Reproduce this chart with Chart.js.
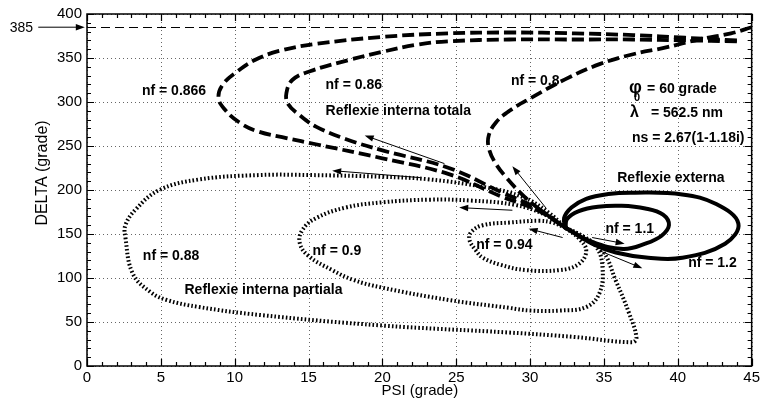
<!DOCTYPE html>
<html>
<head>
<meta charset="utf-8">
<script src="https://cdn.jsdelivr.net/npm/chart.js@4.4.1/dist/chart.umd.min.js"></script>
<style>
  html, body { margin: 0; padding: 0; background: #fff; }
</style>
</head>
<body>
<canvas id="chart" width="763" height="401"></canvas>
<script>
// axis ticks
const psiTicks = [0, 5, 10, 15, 20, 25, 30, 35, 40, 45];
const deltaTicks = [0, 50, 100, 150, 200, 250, 300, 350, 400];
const psiMinorStep = 1;
const deltaMinorStep = 10;
const deltaLimit = 385;

// nf = 0.866 (reflexie interna totala)
const nf0866Psi = [44, 40.5, 37, 33, 28.6, 24.5, 20, 15.5, 13, 11.4, 10.2, 9.2, 8.9, 9.3, 10.3, 11.5, 13.5, 15.5, 20, 24.5, 28, 30.5, 32.4];
const nf0866Delta = [370, 373, 376, 378, 379, 378, 374, 366, 358, 348, 335, 320, 305, 292, 277, 267, 259, 252, 236, 218, 193, 177, 157];
// nf = 0.86
const nf086Psi = [44, 40.5, 37, 33, 28.6, 24.5, 22.3, 20, 17.8, 15.1, 13.9, 13.5, 13.6, 14.4, 15.5, 17.5, 20, 24.5, 28, 30.5, 32.4];
const nf086Delta = [369, 370, 371, 371, 371, 369, 365, 357, 348, 335, 325, 310, 298, 285, 272, 258, 245, 225, 198, 179, 157];
// nf = 0.8
const nf08Psi = [45, 43.6, 41.4, 39.2, 36.9, 34.7, 32.4, 30.1, 28.6, 27.7, 27.2, 27.2, 27.6, 28.4, 29.7, 30.8, 32.4];
const nf08Delta = [385, 378, 371, 362, 354, 343, 326, 305, 290, 277, 262, 248, 232, 214, 191, 176, 157];

// nf = 0.88 (reflexie interna partiala)
const nf088Psi = [32.4, 31.2, 29.5, 27, 23.2, 20, 15, 11.7, 7.6, 4.9, 3.3, 2.6, 2.6, 3.1, 4.3, 5.4, 7.6, 11.7, 20, 28.6, 33, 36.9, 37.2, 36.7, 35.8, 34.9, 33.5, 32.4];
const nf088Delta = [157, 175, 192, 203, 212, 215, 217, 217, 212, 200, 178, 160, 146, 105, 84, 75, 67, 58, 46, 38, 33, 27, 32, 60, 97, 131, 148, 157];
// nf = 0.9
const nf09Psi = [32.4, 31, 29, 26, 23.2, 20, 17.5, 15.5, 14.6, 14.4, 15, 16.6, 18, 20, 24.5, 28.6, 30, 32, 33.8, 34.7, 34.9, 34.5, 33.5, 32.4];
const nf09Delta = [157, 172, 183, 188, 189, 186, 180, 168, 155, 140, 125, 109, 98, 89, 75, 66, 63, 63, 67, 83, 112, 135, 148, 157];
// nf = 0.94
const nf094Psi = [32.4, 31.5, 30.6, 28.6, 26.8, 26, 25.9, 26.3, 26.8, 28, 29.7, 32, 33.3, 33.8, 33.3, 32.4];
const nf094Delta = [157, 163, 165, 163, 160, 152, 143, 132, 123, 115, 109, 109, 116, 131, 145, 157];

// nf = 1.1 and 1.2 (reflexie externa)
const nf11Psi = [32.4, 32.5, 33.3, 34.6, 36.2, 37.8, 39, 39.4, 38.9, 37.8, 36.3, 34.2, 32.4];
const nf11Delta = [157, 167, 176, 181, 182, 179, 172, 160, 148, 139, 133, 141, 157];
const nf12Psi = [32.4, 32.3, 32.8, 33.8, 35.3, 36.9, 40.3, 42.6, 44.1, 43.2, 40.3, 38, 35.8, 34.2, 32.4];
const nf12Delta = [157, 168, 180, 190, 195.5, 197, 195, 184, 162, 139, 123, 123, 129, 139, 157];

// direction arrows
const arrowFromPsi = [24.2, 22.6, 31.1, 28.8, 32.2, 34.2, 34.7];
const arrowFromDelta = [230, 214, 179, 177, 146, 146, 131];
const arrowToPsi = [18.8, 16.6, 28.8, 25.2, 29.9, 36.4, 37.6];
const arrowToDelta = [262, 222, 227, 180, 156, 139, 111];

const FONT = "'Liberation Sans', Arial, Helvetica, sans-serif";

const notes = [
    { text: 'nf = 0.866', psi: 3.72, delta: 312 },
    { text: 'nf = 0.86', psi: 16.15, delta: 319 },
    { text: 'Reflexie interna totala', psi: 16.15, delta: 289.6 },
    { text: 'nf = 0.8', psi: 28.7, delta: 323.5 },
    { text: 'ns = 2.67(1-1.18i)', psi: 36.9, delta: 259 },
    { text: 'Reflexie externa', psi: 35.9, delta: 214 },
    { text: 'nf = 1.1', psi: 35.1, delta: 156 },
    { text: 'nf = 1.2', psi: 40.7, delta: 116.5 },
    { text: 'nf = 0.94', psi: 26.35, delta: 137 },
    { text: 'nf = 0.9', psi: 15.27, delta: 130 },
    { text: 'nf = 0.88', psi: 3.78, delta: 124.4 },
    { text: 'Reflexie interna partiala', psi: 6.6, delta: 86 }
];

function pts(xs, ys) {
    return xs.map((v, i) => ({ x: v, y: ys[i] }));
}

function curve(xs, ys, style) {
    const ds = {
        data: pts(xs, ys),
        showLine: true,
        borderColor: '#000',
        pointRadius: 0,
        tension: 0.4,
        borderWidth: 3.8
    };
    if (style === 'dash') ds.borderDash = [12, 5];
    if (style === 'dot') { ds.borderDash = [1.6, 2.2]; ds.borderWidth = 4; }
    if (style === 'solid') ds.borderWidth = 4;
    return ds;
}

function arrow(ctx, x1, y1, x2, y2) {
    const a = Math.atan2(y2 - y1, x2 - x1);
    const L = 9, W = 3.2;
    const c = Math.cos(a), s = Math.sin(a);
    ctx.beginPath();
    ctx.moveTo(x1, y1);
    ctx.lineTo(x2 - L * 0.7 * c, y2 - L * 0.7 * s);
    ctx.stroke();
    ctx.beginPath();
    ctx.moveTo(x2, y2);
    ctx.lineTo(x2 - L * c + W * s, y2 - L * s - W * c);
    ctx.lineTo(x2 - L * c - W * s, y2 - L * s + W * c);
    ctx.closePath();
    ctx.fill();
}

const decorPlugin = {
    id: 'decor',
    beforeDatasetsDraw(chart) {
        const { ctx, chartArea: a, scales: { x, y } } = chart;
        ctx.save();
        ctx.strokeStyle = '#666';
        ctx.lineWidth = 1;
        ctx.setLineDash([1, 3]);
        psiTicks.forEach(v => {
            const px = Math.round(x.getPixelForValue(v)) + 0.5;
            ctx.beginPath(); ctx.moveTo(px, a.top); ctx.lineTo(px, a.bottom); ctx.stroke();
        });
        deltaTicks.forEach(v => {
            const py = Math.round(y.getPixelForValue(v)) + 0.5;
            ctx.beginPath(); ctx.moveTo(a.left, py); ctx.lineTo(a.right, py); ctx.stroke();
        });
        // limit line
        ctx.strokeStyle = '#000';
        ctx.setLineDash([9, 5]);
        const ly = Math.round(y.getPixelForValue(deltaLimit)) + 0.5;
        ctx.beginPath(); ctx.moveTo(a.left, ly); ctx.lineTo(a.right, ly); ctx.stroke();
        ctx.restore();
    },
    afterDatasetsDraw(chart) {
        const { ctx, chartArea: a, scales: { x, y } } = chart;
        ctx.save();
        // frame
        ctx.strokeStyle = '#000';
        ctx.lineWidth = 1.5;
        ctx.strokeRect(a.left, a.top, a.right - a.left, a.bottom - a.top);
        // inward ticks on all sides
        ctx.lineWidth = 1.2;
        for (let v = 0; v <= 45; v += psiMinorStep) {
            const px = Math.round(x.getPixelForValue(v)) + 0.5;
            const len = psiTicks.includes(v) ? 7 : 4;
            ctx.beginPath();
            ctx.moveTo(px, a.bottom); ctx.lineTo(px, a.bottom - len);
            ctx.moveTo(px, a.top); ctx.lineTo(px, a.top + len);
            ctx.stroke();
        }
        for (let v = 0; v <= 400; v += deltaMinorStep) {
            const py = Math.round(y.getPixelForValue(v)) + 0.5;
            const len = deltaTicks.includes(v) ? 7 : 4;
            ctx.beginPath();
            ctx.moveTo(a.left, py); ctx.lineTo(a.left + len, py);
            ctx.moveTo(a.right, py); ctx.lineTo(a.right - len, py);
            ctx.stroke();
        }
        // arrows
        ctx.lineWidth = 1;
        ctx.fillStyle = '#000';
        arrowFromPsi.forEach((v, i) => {
            arrow(ctx, x.getPixelForValue(v), y.getPixelForValue(arrowFromDelta[i]),
                x.getPixelForValue(arrowToPsi[i]), y.getPixelForValue(arrowToDelta[i]));
        });
        // 385 marker outside the axes
        const ly = y.getPixelForValue(deltaLimit);
        arrow(ctx, x.getPixelForValue(-3.3), ly, x.getPixelForValue(-0.15), ly);
        ctx.font = '14px ' + FONT;
        ctx.textAlign = 'right';
        ctx.textBaseline = 'middle';
        ctx.fillText('385', x.getPixelForValue(-3.65), ly + 1);

        // notes
        ctx.font = 'bold 14px ' + FONT;
        ctx.textAlign = 'left';
        notes.forEach(n => ctx.fillText(n.text, x.getPixelForValue(n.psi), y.getPixelForValue(n.delta)));

        // phi and lambda lines
        let px = x.getPixelForValue(36.7), py = y.getPixelForValue(314.5);
        ctx.font = 'bold 18px ' + FONT;
        ctx.fillText('\u03C6', px, py - 1);
        ctx.font = 'bold 11px ' + FONT;
        ctx.fillText('0', px + 5, py + 9);
        ctx.font = 'bold 14px ' + FONT;
        ctx.fillText('= 60 grade', px + 18, py);
        px = x.getPixelForValue(36.76); py = y.getPixelForValue(287);
        ctx.font = 'bold 16px ' + FONT;
        ctx.fillText('\u03BB', px, py - 1);
        ctx.font = 'bold 14px ' + FONT;
        ctx.fillText('= 562.5 nm', px + 21, py);

        // axis titles
        ctx.font = '15px ' + FONT;
        ctx.textAlign = 'center';
        ctx.fillText('PSI (grade)', (a.left + a.right) / 2 + 0.5, 391);
        ctx.font = '16px ' + FONT;
        ctx.translate(43, 173);
        ctx.rotate(-Math.PI / 2);
        ctx.fillText('DELTA (grade)', 0, 0);
        ctx.restore();
    }
};

Chart.defaults.font.family = FONT;
Chart.defaults.color = '#000';

new Chart(document.getElementById('chart'), {
    type: 'scatter',
    data: {
        datasets: [
            curve(nf088Psi, nf088Delta, 'dot'),
            curve(nf09Psi, nf09Delta, 'dot'),
            curve(nf094Psi, nf094Delta, 'dot'),
            curve(nf0866Psi, nf0866Delta, 'dash'),
            curve(nf086Psi, nf086Delta, 'dash'),
            curve(nf08Psi, nf08Delta, 'dash'),
            curve(nf11Psi, nf11Delta, 'solid'),
            curve(nf12Psi, nf12Delta, 'solid')
        ]
    },
    options: {
        responsive: false,
        animation: false,
        layout: { padding: { top: 12, right: 10, left: 0, bottom: 0 } },
        plugins: { legend: { display: false }, tooltip: { enabled: false } },
        scales: {
            x: {
                type: 'linear',
                min: 0,
                max: 45,
                afterBuildTicks: s => { s.ticks = psiTicks.map(v => ({ value: v })); },
                afterFit: s => { s.height = 35; },
                grid: { display: false, drawTicks: false },
                border: { display: false },
                ticks: { font: { size: 15 }, padding: 3, color: '#000', maxRotation: 0 }
            },
            y: {
                type: 'linear',
                min: 0,
                max: 400,
                afterBuildTicks: s => { s.ticks = deltaTicks.map(v => ({ value: v })); },
                afterFit: s => { s.width = 87; },
                grid: { display: false, drawTicks: false },
                border: { display: false },
                ticks: { font: { size: 15 }, padding: 5, color: '#000' }
            }
        }
    },
    plugins: [decorPlugin]
});
</script>
</body>
</html>
